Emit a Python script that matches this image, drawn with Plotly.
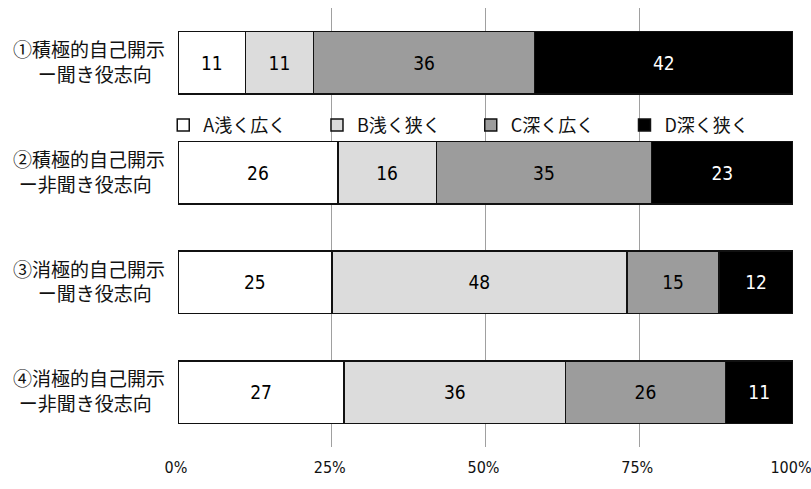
import plotly.graph_objects as go

PAD = "\u2002\u2009"
categories = ["①積極的自己開示<br>ー聞き役志向" + PAD, "②積極的自己開示<br>ー非聞き役志向" + PAD,
              "③消極的自己開示<br>ー聞き役志向" + PAD, "④消極的自己開示<br>ー非聞き役志向" + PAD]
series_names = ["A浅く広く", "B浅く狭く", "C深く広く", "D深く狭く"]
a_vals = [11, 26, 25, 27]
b_vals = [11, 16, 48, 36]
c_vals = [36, 35, 15, 26]
d_vals = [42, 23, 12, 11]
tick_vals = [0, 25, 50, 75, 100]
tick_text = ["0%", "25%", "50%", "75%", "100%"]

NARROW = "Liberation Sans Narrow, DejaVu Sans Condensed, Arial Narrow, Roboto Condensed, sans-serif"
colors = ["#ffffff", "#dcdcdc", "#9c9c9c", "#000000"]
text_colors = ["#000000", "#000000", "#000000", "#ffffff"]
legend_ids = ["legend", "legend2", "legend3", "legend4"]

fig = go.Figure()
for name, vals, col, tcol, lg in zip(series_names, [a_vals, b_vals, c_vals, d_vals], colors, text_colors, legend_ids):
    fig.add_trace(go.Bar(
        y=categories, x=vals, name=name, orientation="h", legend=lg,
        marker=dict(color=col, line=dict(color="#111111", width=1.5)),
        text=[str(v) for v in vals], textposition="inside", insidetextanchor="middle",
        textfont=dict(family=NARROW, size=19, color=tcol),
        constraintext="none", hoverinfo="skip",
    ))

legend_style = dict(orientation="h", xref="paper", xanchor="left",
                    y=0.733, yanchor="middle", bgcolor="rgba(0,0,0,0)",
                    font=dict(family="Noto Sans CJK JP", size=18, color="#111111"),
                    itemwidth=30)
layout_legends = {}
for i, lg in enumerate(legend_ids):
    layout_legends[lg] = dict(legend_style, x=0.25 * i - 0.024)

fig.update_layout(
    barmode="stack", bargap=0.43,
    width=811, height=489,
    margin=dict(l=178, r=18, t=8, b=42, autoexpand=False),
    paper_bgcolor="white", plot_bgcolor="white",
    showlegend=True,
    font=dict(family="Noto Sans CJK JP", color="#111111"),
    **layout_legends,
)
fig.update_xaxes(range=[0, 100], tickvals=tick_vals, ticktext=tick_text,
                 showgrid=True, gridcolor="#a0a0a0", gridwidth=1, zeroline=False,
                 showline=False, ticks="", ticklabeloverflow="allow", automargin=False,
                 ticklabelshift=-2, ticklabelstandoff=9,
                 tickfont=dict(family=NARROW, size=16, color="#111111"))
fig.update_yaxes(autorange=False, range=[3.5, -0.5], showgrid=False, showline=False, ticks="",
                 ticklabelstandoff=12, automargin=False,
                 tickfont=dict(family="Noto Sans CJK JP", size=19, color="#111111"))

fig.write_html("out.html")
